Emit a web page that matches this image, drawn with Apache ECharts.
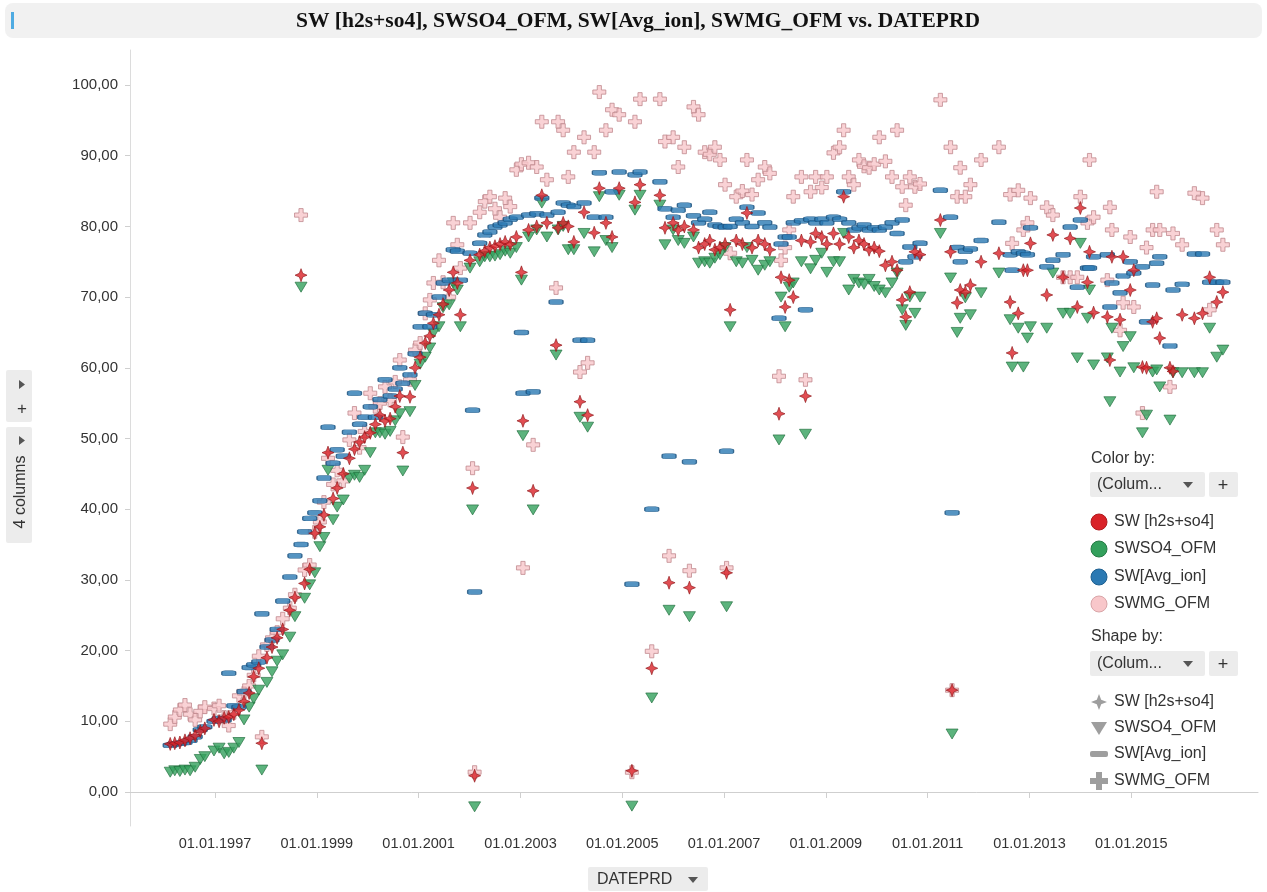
<!DOCTYPE html>
<html>
<head>
<meta charset="utf-8">
<script src="https://cdn.jsdelivr.net/npm/echarts@6/dist/echarts.min.js"></script>
<style>
  html, body { margin: 0; padding: 0; background: #fff; }
  #chart { width: 1267px; height: 892px; }
</style>
</head>
<body>
<div id="chart"></div>
<script>
// Production dates (decimal years) shared by all four columns
const dates = [
  1996.12,1996.21,1996.31,1996.41,1996.51,1996.61,1996.71,1996.80,1996.98,1997.08,
  1997.18,1997.27,1997.37,1997.47,1997.57,1997.67,1997.76,1997.86,1997.92,1998.02,
  1998.12,1998.22,1998.33,1998.47,1998.57,1998.69,1998.76,1998.86,1998.96,1999.06,
  1999.14,1999.22,1999.32,1999.40,1999.52,1999.64,1999.74,1999.84,1999.94,2000.05,
  2000.15,2000.24,2000.34,2000.44,2000.54,2000.63,2000.69,2000.83,2000.93,2001.03,
  2001.13,2001.22,2001.29,2001.40,2001.48,2001.60,2001.68,2001.76,2001.82,2002.01,
  2002.06,2002.10,2002.20,2002.30,2002.40,2002.50,2002.60,2002.70,2002.80,2002.92,
  2003.02,2003.05,2003.16,2003.25,2003.32,2003.42,2003.52,2003.70,2003.74,2003.84,
  2003.94,2004.05,2004.17,2004.25,2004.32,2004.45,2004.55,2004.68,2004.80,2004.94,
  2005.19,2005.25,2005.35,2005.58,2005.74,2005.84,2005.92,2006.00,2006.10,2006.22,
  2006.32,2006.40,2006.50,2006.62,2006.72,2006.82,2006.92,2007.02,2007.05,2007.12,
  2007.24,2007.36,2007.45,2007.55,2007.67,2007.80,2007.90,2008.08,2008.12,2008.20,
  2008.28,2008.36,2008.52,2008.60,2008.70,2008.80,2008.92,2009.02,2009.15,2009.27,
  2009.35,2009.45,2009.55,2009.65,2009.75,2009.85,2009.95,2010.05,2010.17,2010.30,
  2010.40,2010.50,2010.57,2010.65,2010.75,2010.85,2011.25,2011.45,2011.48,2011.58,
  2011.64,2011.74,2011.84,2012.05,2012.40,2012.62,2012.66,2012.78,2012.88,2012.96,
  2013.02,2013.34,2013.46,2013.66,2013.80,2013.94,2014.00,2014.14,2014.18,2014.26,
  2014.53,2014.58,2014.62,2014.78,2014.84,2014.98,2015.05,2015.22,2015.30,2015.42,
  2015.50,2015.56,2015.76,2015.82,2016.00,2016.24,2016.40,2016.54,2016.68,2016.80
];

// SW [h2s+so4]
const swH2sSo4 = [
  6.8,6.9,7.0,7.3,7.6,8.0,8.6,9.0,10.2,10.0,
  10.5,10.6,11.0,11.6,12.8,14.0,16.3,17.5,6.9,19.0,
  20.5,21.8,23.0,25.7,27.5,73.1,29.5,31.5,36.6,37.5,
  39.2,48.0,41.5,43.0,45.0,47.2,48.5,49.5,50.2,50.8,
  52.0,53.3,52.5,52.8,54.5,56.0,48.0,55.9,60.0,61.5,
  63.5,64.5,66.3,67.5,69.0,71.0,73.5,72.0,67.5,75.2,
  43.0,2.3,76.0,76.5,77.0,77.2,77.5,77.8,77.5,78.5,
  73.5,52.5,79.5,42.6,80.0,84.4,80.5,63.2,79.8,80.5,
  80.0,77.8,55.2,82.0,53.3,79.1,85.4,80.5,78.5,85.4,
  3.0,83.4,85.9,17.5,84.4,79.8,29.6,80.5,79.5,80.0,
  28.9,79.5,77.0,77.5,78.0,76.7,77.0,77.5,31.0,68.2,
  78.0,77.5,81.9,77.0,78.0,77.5,76.7,53.5,72.8,68.6,
  72.4,70.0,78.0,56.0,77.8,79.0,78.5,77.5,79.0,77.5,
  84.2,78.5,77.0,78.0,77.5,76.7,77.0,76.5,74.5,75.0,
  73.8,69.6,67.2,70.7,76.4,76.0,80.9,76.4,14.4,69.2,
  71.0,70.7,71.7,75.0,76.2,69.3,62.1,67.7,73.8,73.8,
  77.6,70.3,78.8,72.8,78.3,68.6,82.6,72.1,76.4,67.8,
  67.2,61.1,75.7,66.8,75.7,71.0,73.8,60.1,60.0,66.5,
  67.0,64.2,60.0,59.5,67.5,67.0,67.7,72.8,69.3,70.7
];

// SWSO4_OFM
const swSo4Ofm = [
  2.8,3.0,2.9,3.1,3.0,3.5,4.6,5.0,5.8,6.2,
  5.4,5.6,6.2,7.0,10.2,12.0,13.2,14.4,3.1,15.5,
  17.0,18.5,19.4,21.9,24.8,71.4,27.4,29.3,31.0,34.7,
  36.0,45.5,38.5,40.3,41.3,44.4,44.8,44.5,45.5,48.0,
  50.8,50.8,50.6,51.0,52.5,53.5,45.4,53.8,57.5,60.5,
  61.5,62.8,64.9,65.8,68.5,68.9,72.0,71.0,65.8,74.1,
  39.9,-2.1,75.0,75.7,75.7,75.8,76.0,76.5,76.2,77.0,
  72.4,50.4,78.5,39.9,79.5,83.3,78.5,61.8,79.5,80.0,
  76.7,76.7,53.0,79.0,51.6,76.4,84.2,78.0,77.0,84.4,
  -2.0,82.3,84.4,13.3,83.0,77.4,25.7,79.5,78.0,77.6,
  24.8,78.5,74.8,75.0,74.8,75.5,76.0,77.0,26.2,65.8,
  75.0,74.8,77.0,75.2,73.8,74.5,75.0,49.8,70.0,65.8,
  71.4,72.0,75.0,50.6,74.0,75.2,76.2,73.5,75.0,75.0,
  79.0,71.0,72.5,72.0,71.8,72.5,71.5,71.0,70.6,72.0,
  73.4,68.2,66.0,70.0,67.7,70.0,79.0,72.7,8.2,65.0,
  67.0,69.9,67.5,70.6,73.4,66.8,60.1,65.6,60.1,64.2,
  65.8,65.6,73.4,67.7,67.7,61.4,77.6,67.0,71.0,60.4,
  61.4,55.2,65.6,59.4,63.0,64.4,60.0,50.8,53.3,59.4,
  59.7,57.3,52.6,59.3,59.3,59.3,59.3,65.6,61.5,62.5
];

// SW[Avg_ion]
const swAvgIon = [
  6.6,6.8,6.9,7.0,7.3,7.8,8.8,9.2,10.0,10.4,
  10.2,16.8,12.2,12.0,14.2,17.6,18.0,18.4,25.2,20.5,
  21.5,23.0,27.0,30.4,33.4,35.0,36.8,38.7,39.5,41.2,
  44.4,51.6,46.5,48.4,47.5,50.9,56.4,52.0,53.0,54.5,
  53.0,55.5,58.3,56.0,57.0,60.0,57.8,59.0,62.0,65.8,
  67.7,65.8,67.5,70.0,72.0,72.4,76.7,76.5,72.4,76.2,
  54.0,28.3,77.6,78.8,79.2,79.9,80.2,80.5,81.0,81.3,
  65.0,56.4,81.6,56.6,81.8,84.0,81.6,69.3,82.0,83.3,
  83.0,82.8,63.9,83.3,63.9,81.3,87.6,81.3,84.9,87.7,
  29.4,87.3,87.7,40.0,86.3,82.5,47.5,81.3,82.3,83.0,
  46.7,81.5,80.5,81.0,82.0,80.2,80.0,79.9,48.2,80.0,
  81.0,80.5,82.7,80.0,81.9,80.5,79.9,67.0,77.5,78.5,
  78.5,80.5,80.8,68.2,81.0,80.5,81.0,80.5,81.3,81.0,
  84.9,80.5,79.5,79.8,80.2,79.5,79.8,79.5,79.9,80.5,
  79.0,80.9,75.0,77.1,75.7,77.6,85.1,81.3,39.5,77.0,
  75.0,76.5,76.8,78.0,80.6,76.0,73.8,76.4,76.2,76.0,
  79.8,74.3,75.2,76.0,79.9,71.4,80.9,74.1,74.1,75.7,
  76.0,68.6,72.0,70.6,73.0,75.0,73.4,74.3,66.5,71.7,
  74.8,75.7,63.1,71.0,71.8,76.1,76.1,72.1,72.1,72.1
];

// SWMG_OFM
const swMgOfm = [
  9.6,10.6,11.6,12.3,11.0,10.2,11.4,12.0,11.8,12.2,
  10.6,9.4,11.2,13.6,14.0,15.0,16.5,19.2,7.8,20.8,
  21.8,22.6,24.5,26.0,27.9,81.6,31.4,32.1,36.8,38.2,
  41.0,47.2,43.5,45.5,44.0,49.8,53.6,48.7,51.0,56.4,
  54.5,55.0,57.3,55.4,58.0,61.1,50.2,58.3,62.5,63.5,
  67.7,69.6,72.0,75.2,72.1,70.0,80.5,77.4,74.1,80.5,
  45.8,2.8,82.0,83.5,84.2,82.5,81.3,84.0,82.8,88.0,
  88.8,31.7,89.0,49.1,88.4,94.8,86.6,71.3,94.8,93.6,
  87.0,90.5,59.4,92.6,60.7,90.5,99.0,93.6,96.5,95.8,
  2.8,94.8,98.0,19.9,98.0,92.0,33.4,92.6,88.4,91.2,
  31.3,96.9,95.8,90.5,90.2,91.2,89.4,85.9,31.7,76.2,
  84.2,85.0,89.4,84.5,86.6,88.4,87.5,58.8,75.2,77.0,
  79.5,84.2,87.0,58.3,84.9,87.0,85.5,87.0,90.4,91.2,
  93.6,87.0,85.9,89.4,88.5,88.3,88.8,92.6,89.2,87.0,
  93.6,85.6,83.0,87.0,85.6,86.0,97.9,91.2,14.4,84.2,
  88.3,84.2,85.9,89.4,91.2,84.5,77.6,85.1,79.5,80.5,
  84.0,82.7,81.6,72.8,72.8,72.8,84.2,80.5,89.4,81.3,
  72.4,82.7,79.5,65.3,69.2,78.5,68.6,53.6,77.0,79.5,
  84.9,79.5,57.3,79.0,77.4,84.7,84.0,68.2,79.5,77.4
];

const yTicks = [0, 10, 20, 30, 40, 50, 60, 70, 80, 90, 100];
const xTickYears = [1997, 1999, 2001, 2003, 2005, 2007, 2009, 2011, 2013, 2015];
const seriesNames = ['SW [h2s+so4]', 'SWSO4_OFM', 'SW[Avg_ion]', 'SWMG_OFM'];

// marker shapes
const STAR = 'path://M5,0 L6.4,3.6 L10,5 L6.4,6.4 L5,10 L3.6,6.4 L0,5 L3.6,3.6 Z';
const TRI_DOWN = 'path://M0,0 L10,0 L5,9 Z';
const CROSS = 'path://M3.4,0 H6.6 V3.4 H10 V6.6 H6.6 V10 H3.4 V6.6 H0 V3.4 H3.4 Z';

const colors = {
  red: '#d92228', redEdge: '#8e1518',
  green: '#33a05c', greenEdge: '#1d6a3a',
  blue: '#2b79b3', blueEdge: '#1a4f7a',
  pink: '#f8c7ca', pinkEdge: '#c08a8e'
};

const pairs = vals => dates.map((d, i) => [d, vals[i]]);
const FONT = '"Liberation Sans", Arial, sans-serif';
const UI_FONT = '16px ' + FONT;

const chart = echarts.init(document.getElementById('chart'), null, { renderer: 'canvas' });

// side panel pieces (legend and controls)
const gray = '#ececec';
const legendX = 1090;
const graphics = [
  // title bar
  { type: 'rect', shape: { x: 5, y: 3, width: 1257, height: 35, r: 8 }, style: { fill: '#f1f1f1' }, silent: true },
  { type: 'rect', shape: { x: 11, y: 12, width: 3, height: 17 }, style: { fill: '#4fabe2' }, silent: true },
  { type: 'text', x: 638, y: 21, style: { text: 'SW [h2s+so4], SWSO4_OFM, SW[Avg_ion], SWMG_OFM vs. DATEPRD',
      font: 'bold 21.5px "Liberation Serif", "Times New Roman", serif', fill: '#111', align: 'center', verticalAlign: 'middle' } },

  // left column controls
  { type: 'rect', shape: { x: 6, y: 370, width: 26, height: 52, r: 2 }, style: { fill: gray } },
  { type: 'polygon', shape: { points: [[19, 380], [25, 384.5], [19, 389]] }, style: { fill: '#555' } },
  { type: 'text', x: 22, y: 409, style: { text: '+', font: '17px ' + FONT, fill: '#333', align: 'center', verticalAlign: 'middle' } },
  { type: 'rect', shape: { x: 6, y: 427, width: 26, height: 116, r: 2 }, style: { fill: gray } },
  { type: 'polygon', shape: { points: [[19, 436], [25, 440.5], [19, 445]] }, style: { fill: '#555' } },
  { type: 'text', x: 21, y: 492, rotation: Math.PI / 2, style: { text: '4 columns', font: UI_FONT, fill: '#333', align: 'center', verticalAlign: 'middle' } },

  // x-axis column selector
  { type: 'rect', shape: { x: 588, y: 867, width: 120, height: 24, r: 2 }, style: { fill: gray } },
  { type: 'text', x: 597, y: 880, style: { text: 'DATEPRD', font: UI_FONT, fill: '#333', align: 'left', verticalAlign: 'middle' } },
  { type: 'polygon', shape: { points: [[688, 877], [698, 877], [693, 883]] }, style: { fill: '#555' } },

  // Color by
  { type: 'text', x: legendX + 1, y: 459, style: { text: 'Color by:', font: UI_FONT, fill: '#333', verticalAlign: 'middle' } },
  { type: 'rect', shape: { x: legendX, y: 472, width: 115, height: 25, r: 2 }, style: { fill: gray } },
  { type: 'text', x: legendX + 7, y: 485, style: { text: '(Colum...', font: UI_FONT, fill: '#333', verticalAlign: 'middle' } },
  { type: 'polygon', shape: { points: [[1183, 482], [1193, 482], [1188, 488]] }, style: { fill: '#555' } },
  { type: 'rect', shape: { x: 1209, y: 472, width: 29, height: 25, r: 2 }, style: { fill: gray } },
  { type: 'text', x: 1223, y: 486, style: { text: '+', font: '18px ' + FONT, fill: '#333', align: 'center', verticalAlign: 'middle' } },

  // Shape by
  { type: 'text', x: legendX + 1, y: 637, style: { text: 'Shape by:', font: UI_FONT, fill: '#333', verticalAlign: 'middle' } },
  { type: 'rect', shape: { x: legendX, y: 651, width: 115, height: 25, r: 2 }, style: { fill: gray } },
  { type: 'text', x: legendX + 7, y: 664, style: { text: '(Colum...', font: UI_FONT, fill: '#333', verticalAlign: 'middle' } },
  { type: 'polygon', shape: { points: [[1183, 661], [1193, 661], [1188, 667]] }, style: { fill: '#555' } },
  { type: 'rect', shape: { x: 1209, y: 651, width: 29, height: 25, r: 2 }, style: { fill: gray } },
  { type: 'text', x: 1223, y: 665, style: { text: '+', font: '18px ' + FONT, fill: '#333', align: 'center', verticalAlign: 'middle' } }
];

const colorRows = [
  [colors.red, '#b01a1e'], [colors.green, '#267a45'], [colors.blue, '#1d5f90'], [colors.pink, '#d9a5a8']
];
const colorY = [522, 549, 577, 604];
colorRows.forEach((c, i) => {
  graphics.push({ type: 'circle', shape: { cx: legendX + 9, cy: colorY[i], r: 8 }, style: { fill: c[0], stroke: c[1], lineWidth: 1 } });
  graphics.push({ type: 'text', x: legendX + 24, y: colorY[i], style: { text: seriesNames[i], font: UI_FONT, fill: '#333', verticalAlign: 'middle' } });
});

const shapeY = [702, 728, 754, 781];
const shapeGray = '#9e9e9e';
const cxS = legendX + 9;
// star
graphics.push({ type: 'polygon', shape: { points: [[cxS, shapeY[0] - 8], [cxS + 2.2, shapeY[0] - 2.2], [cxS + 8, shapeY[0]], [cxS + 2.2, shapeY[0] + 2.2], [cxS, shapeY[0] + 8], [cxS - 2.2, shapeY[0] + 2.2], [cxS - 8, shapeY[0]], [cxS - 2.2, shapeY[0] - 2.2]] }, style: { fill: shapeGray } });
// triangle
graphics.push({ type: 'polygon', shape: { points: [[cxS - 8, shapeY[1] - 6], [cxS + 8, shapeY[1] - 6], [cxS, shapeY[1] + 7]] }, style: { fill: shapeGray } });
// dash
graphics.push({ type: 'rect', shape: { x: cxS - 9, y: shapeY[2] - 3, width: 18, height: 6, r: 2 }, style: { fill: shapeGray } });
// cross
graphics.push({ type: 'polygon', shape: { points: [[cxS - 3, shapeY[3] - 9], [cxS + 3, shapeY[3] - 9], [cxS + 3, shapeY[3] - 3], [cxS + 9, shapeY[3] - 3], [cxS + 9, shapeY[3] + 3], [cxS + 3, shapeY[3] + 3], [cxS + 3, shapeY[3] + 9], [cxS - 3, shapeY[3] + 9], [cxS - 3, shapeY[3] + 3], [cxS - 9, shapeY[3] + 3], [cxS - 9, shapeY[3] - 3], [cxS - 3, shapeY[3] - 3]] }, style: { fill: shapeGray } });
shapeY.forEach((y, i) => {
  graphics.push({ type: 'text', x: legendX + 24, y: y, style: { text: seriesNames[i], font: UI_FONT, fill: '#333', verticalAlign: 'middle' } });
});

const option = {
  animation: false,
  backgroundColor: '#ffffff',
  grid: { left: 130, right: 9, top: 50, bottom: 66, containLabel: false },
  xAxis: {
    type: 'value',
    min: 1995.33,
    max: 2017.49,
    axisLine: { show: true, lineStyle: { color: '#cfcfcf', width: 1 } },
    axisTick: { show: true, length: 6, lineStyle: { color: '#cfcfcf' }, customValues: xTickYears },
    axisLabel: {
      customValues: xTickYears,
      formatter: v => '01.01.' + Math.round(v),
      color: '#333', fontSize: 14.5, fontFamily: FONT, margin: 10
    },
    splitLine: { show: false }
  },
  yAxis: {
    type: 'value',
    min: -4.81,
    max: 104.95,
    axisLine: { show: true, lineStyle: { color: '#dcdcdc', width: 1 } },
    axisTick: { show: true, length: 5, lineStyle: { color: '#cfcfcf' }, customValues: yTicks },
    axisLabel: {
      customValues: yTicks,
      formatter: v => v.toFixed(2).replace('.', ','),
      color: '#333', fontSize: 15, fontFamily: FONT, margin: 12
    },
    splitLine: { show: false }
  },
  series: [
    {
      name: seriesNames[3], type: 'scatter', data: pairs(swMgOfm),
      symbol: CROSS, symbolSize: [13, 13],
      itemStyle: { color: colors.pink, borderColor: colors.pinkEdge, borderWidth: 1 }
    },
    {
      name: seriesNames[1], type: 'scatter', data: pairs(swSo4Ofm),
      symbol: TRI_DOWN, symbolSize: [12, 10],
      itemStyle: { color: colors.green, borderColor: colors.greenEdge, borderWidth: 0.8 }
    },
    {
      name: seriesNames[2], type: 'scatter', data: pairs(swAvgIon),
      symbol: 'roundRect', symbolSize: [14, 5],
      itemStyle: { color: colors.blue, borderColor: colors.blueEdge, borderWidth: 0.8 }
    },
    {
      name: seriesNames[0], type: 'scatter', data: pairs(swH2sSo4),
      symbol: STAR, symbolSize: [12, 13],
      itemStyle: { color: colors.red, borderColor: colors.redEdge, borderWidth: 0.8 }
    }
  ],
  graphic: graphics
};

chart.setOption(option);
</script>
</body>
</html>
